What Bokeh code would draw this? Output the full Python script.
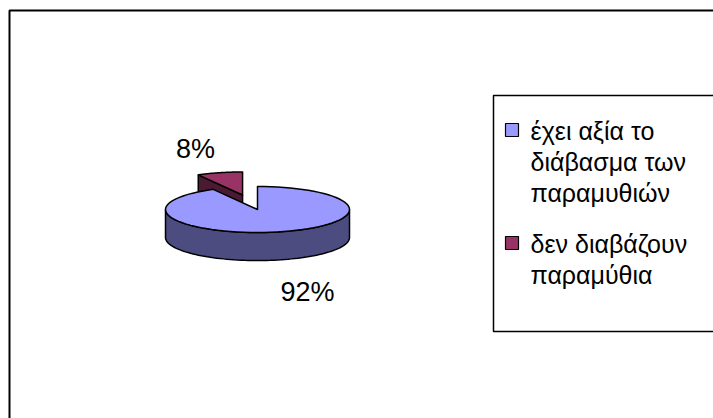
import numpy as np
from bokeh.plotting import figure
from bokeh.models import Range1d
from bokeh.core.properties import value
from bokeh.embed import file_html
from bokeh.resources import INLINE

# --- data -------------------------------------------------------------
categories = ["έχει αξία το διάβασμα των παραμυθιών", "δεν διαβάζουν παραμύθια"]
legend_lines = [["έχει αξία το", "διάβασμα των", "παραμυθιών"],
                ["δεν διαβάζουν", "παραμύθια"]]
shares = [92, 8]
top_colors = ["#9999FF", "#993366"]
side_colors = ["#4C4C80", "#4C1933"]

# --- canvas in pixel units (y grows downward) -------------------------
W, H = 713, 418
p = figure(width=W, height=H, output_backend="svg", toolbar_location=None,
           x_range=Range1d(0, W), y_range=Range1d(H, 0),
           min_border=0, x_axis_location=None, y_axis_location=None)
p.grid.visible = False
p.outline_line_color = None
p.background_fill_color = "white"

FONT = value("Liberation Sans")

# outer chart frame (runs off the right and bottom edges)
p.quad(left=[9], right=[W + 20], top=[10], bottom=[H + 20],
       fill_alpha=0, line_color="black", line_width=2)

# --- 3D pie -----------------------------------------------------------
cx, cy = 257.0, 209.0      # centre of the top face
R, ry = 92.0, 23.0         # horizontal / vertical radii of the top ellipse
depth = 28.0
explode = [0.0, 60.0]      # pull-out along each slice's bisector
tilt = ry / R

total = float(sum(shares))
bounds = np.concatenate([[0.0], np.cumsum(shares) / total * 360.0])


def rim(t_deg, ox, oy, dz=0.0):
    t = np.radians(t_deg)
    return ox + R * np.sin(t), oy - ry * np.cos(t) + dz


def arc(t0, t1, ox, oy, dz=0.0, n=80):
    ts = np.linspace(t0, t1, n)
    xs, ys = rim(ts, ox, oy, dz)
    return list(xs), list(ys)


slices = []
for i, s in enumerate(shares):
    t0, t1 = bounds[i], bounds[i + 1]
    mid = np.radians((t0 + t1) / 2)
    ox = cx + explode[i] * np.sin(mid)
    oy = cy - explode[i] * tilt * np.cos(mid)
    slices.append((t0, t1, ox, oy))

# back slices first so the large slice covers them
order = [1, 0]
for i in order:
    t0, t1, ox, oy = slices[i]
    # radial face at the slice start (faces the viewer for the small slice)
    if i == 1:
        rx0, ry0 = rim(t0, ox, oy)
        p.patch([ox, rx0, rx0, ox], [oy, ry0, ry0 + depth, oy + depth],
                fill_color=side_colors[i], line_color="black", line_width=1.5)
    # front outer wall
    a0, a1 = max(t0, 90.0), min(t1, 270.0)
    if a1 > a0:
        xt, yt = arc(a0, a1, ox, oy)
        xb, yb = arc(a0, a1, ox, oy, depth)
        p.patch(xt + xb[::-1], yt + yb[::-1], fill_color=side_colors[i],
                line_color="black", line_width=1.5)
    # top face
    xs, ys = arc(t0, t1, ox, oy)
    p.patch([ox] + xs + [ox], [oy] + ys + [oy], fill_color=top_colors[i],
            line_color="black", line_width=1.5, line_join="round")

# percentage labels
label_pos = [(cx + 50, cy + 82), (cx - 62, cy - 61)]
pct = [f"{round(s / total * 100)}%" for s in shares]
p.text(x=[q[0] for q in label_pos], y=[q[1] for q in label_pos], text=pct,
       text_font=FONT, text_font_size="27px", text_color="black",
       text_align="center", text_baseline="middle")

# --- legend -----------------------------------------------------------
p.quad(left=[493], right=[W + 20], top=[95], bottom=[331],
       fill_color="white", line_color="black", line_width=1.5)

sw_x, txt_x = 505, 530
item_y = [130, 243]       # vertical middle of each item's first line
line_step = 31
for i, lines in enumerate(legend_lines):
    y0 = item_y[i]
    p.quad(left=[sw_x], right=[sw_x + 13], top=[y0 - 7], bottom=[y0 + 6],
           fill_color=top_colors[i], line_color="black", line_width=1.2)
    p.text(x=[txt_x] * len(lines), y=[y0 + k * line_step for k in range(len(lines))],
           text=lines, text_font=FONT, text_font_size="25px", text_color="black",
           text_align="left", text_baseline="middle")

open("out.html", "w").write(file_html(p, INLINE))
